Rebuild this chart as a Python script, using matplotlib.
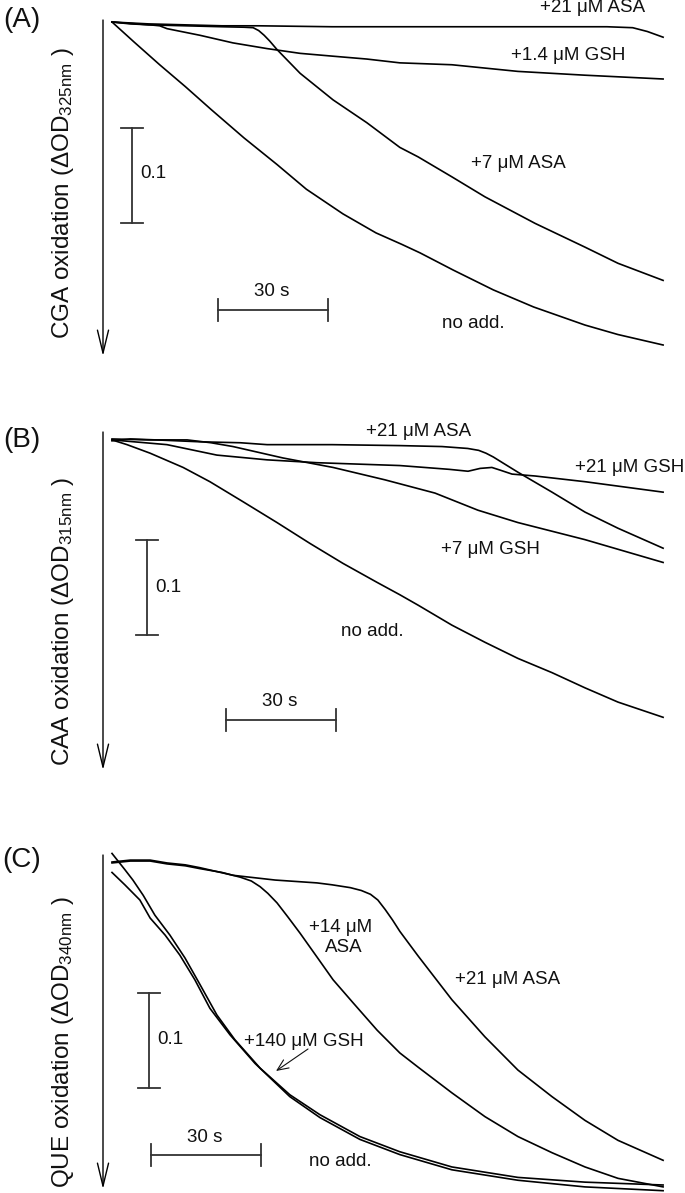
import matplotlib
matplotlib.use("Agg")
import matplotlib.pyplot as plt
from matplotlib.patches import FancyArrowPatch

plt.rcParams["font.family"] = ["Liberation Sans", "DejaVu Sans"]
plt.rcParams["mathtext.fontset"] = "custom"
plt.rcParams["mathtext.rm"] = "Liberation Sans"
plt.rcParams["mathtext.it"] = "Liberation Sans:italic"

W, H = 685, 1193
SX = 110 / 30.0   # px per second
SY = 950.0        # px per OD unit

# =========================
# Data: time (s) vs. oxidation (ΔOD, drawn downward)
# =========================
# (A) CGA, 325 nm
a_noadd_t = [0, 6, 13, 20, 27, 36, 45, 53, 63, 72, 79, 84, 93, 104, 115, 129, 138, 150.3]
a_noadd_od = [0, 0.021, 0.045, 0.068, 0.092, 0.122, 0.150, 0.176, 0.202, 0.222, 0.234,
              0.243, 0.261, 0.282, 0.300, 0.319, 0.329, 0.340]
a_asa7_t = [0, 10, 20, 30, 36, 38.5, 40, 41.5, 43, 45, 51.3, 60.3, 69.5, 78.5, 83.5, 92.7,
            101.7, 115.4, 129, 138, 150.3]
a_asa7_od = [0, 0.003, 0.004, 0.005, 0.0055, 0.006, 0.009, 0.014, 0.020, 0.029, 0.054, 0.082,
             0.106, 0.132, 0.142, 0.163, 0.184, 0.212, 0.237, 0.254, 0.272]
a_asa21_t = [0, 10, 20, 30, 40, 60, 80, 100, 120, 135, 142, 146, 150.3]
a_asa21_od = [0, 0.002, 0.003, 0.004, 0.004, 0.005, 0.005, 0.005, 0.005, 0.005, 0.006, 0.010, 0.016]
a_gsh14_t = [0, 5, 10.4, 13, 15, 24, 33, 42.3, 51.3, 60.3, 69.5, 78.5, 92.7, 110.7, 129, 150.3]
a_gsh14_od = [0, 0.002, 0.003, 0.004, 0.007, 0.014, 0.022, 0.028, 0.033, 0.036, 0.039, 0.043,
              0.045, 0.052, 0.056, 0.060]

# (B) CAA, 315 nm
b_noadd_t = [0, 4.1, 10.4, 19.4, 26.7, 35.7, 45, 54, 63, 72.3, 78.5, 83.5, 92.7, 101.7, 110.7,
             120, 129, 138, 150.3]
b_noadd_od = [0.002, 0.007, 0.016, 0.031, 0.046, 0.067, 0.089, 0.111, 0.132, 0.152, 0.165,
              0.176, 0.197, 0.215, 0.232, 0.247, 0.263, 0.278, 0.294]
b_asa21_t = [0, 5, 12, 24, 35, 42.3, 60, 78.5, 90, 97, 100, 102, 104, 106.5, 110.7, 120, 129,
             138, 150.3]
b_asa21_od = [0.003, 0.001, 0.002, 0.004, 0.005, 0.007, 0.007, 0.008, 0.009, 0.011, 0.013,
              0.016, 0.020, 0.026, 0.036, 0.057, 0.078, 0.095, 0.116]
b_gsh21_t = [0, 15, 28.6, 42.3, 55.9, 78.5, 92, 97.1, 100.4, 103.6, 106, 109.1, 115.4, 129, 150.3]
b_gsh21_od = [0.002, 0.007, 0.018, 0.023, 0.026, 0.029, 0.033, 0.035, 0.032, 0.031, 0.034,
              0.038, 0.040, 0.046, 0.057]
b_gsh7_t = [0, 10, 20.5, 27, 33, 46.6, 60.3, 74.4, 88.1, 99.8, 110.7, 129, 150.3]
b_gsh7_od = [0.001, 0.002, 0.002, 0.005, 0.009, 0.021, 0.031, 0.044, 0.058, 0.076, 0.089,
             0.107, 0.131]

# (C) QUE, 340 nm
c_asa21_t = [0, 5, 10.4, 15, 20, 24, 33, 44.5, 55.9, 60, 65, 68, 70.5, 72.5, 74.5, 76.5, 78.5,
             83.5, 92.7, 101.7, 110.7, 120, 129, 138, 150.3]
c_asa21_od = [0, -0.002, -0.002, 0.001, 0.003, 0.006, 0.014, 0.019, 0.022, 0.024, 0.027, 0.030,
              0.034, 0.040, 0.050, 0.061, 0.073, 0.099, 0.145, 0.184, 0.219, 0.247, 0.272,
              0.293, 0.314]
c_asa14_t = [0, 5, 10.4, 15, 20, 24, 30, 35, 38, 40.4, 42.5, 45, 48, 51.3, 55.9, 60.3, 65.7,
             72.3, 78.5, 83.5, 92.7, 101.7, 110.7, 120, 129, 138, 150.3]
c_asa14_od = [0.001, -0.001, -0.001, 0.002, 0.004, 0.007, 0.011, 0.016, 0.020, 0.026, 0.033,
              0.043, 0.058, 0.075, 0.100, 0.124, 0.148, 0.177, 0.201, 0.216, 0.243, 0.268,
              0.289, 0.306, 0.321, 0.333, 0.342]
c_noadd_t = [0, 3.5, 5.7, 8.5, 11.7, 15.8, 19.9, 24, 28.6, 33.5, 40.4, 48.5, 56.7, 67.6, 78.5,
             92.7, 110.7, 129, 150.3]
c_noadd_od = [-0.009, 0.008, 0.019, 0.035, 0.056, 0.077, 0.101, 0.129, 0.161, 0.187, 0.217,
              0.245, 0.266, 0.289, 0.305, 0.321, 0.332, 0.337, 0.340]
c_gsh140_t = [0, 3.5, 7.6, 10.4, 14.5, 18.5, 22.6, 26.7, 32.2, 39, 48.5, 56.7, 67.6, 78.5, 92.7,
              110.7, 129, 150.3]
c_gsh140_od = [0.011, 0.024, 0.040, 0.059, 0.077, 0.098, 0.124, 0.154, 0.182, 0.212, 0.247,
               0.269, 0.292, 0.308, 0.324, 0.335, 0.342, 0.346]

LABEL_FS = 13.5
TEXT_COLOR = "#111111"
BAR_COLOR = "#333333"

fig = plt.figure(figsize=(W / 100, H / 100), dpi=100)


def fp(x, y):
    """pixel (from top-left) -> figure fraction"""
    return x / W, 1 - y / H


def make_panel(top, bottom, x0, y0):
    ax = fig.add_axes([0, 1 - bottom / H, 1, (bottom - top) / H])
    ax.set_xlim(-x0 / SX, (W - x0) / SX)
    ax.set_ylim((bottom - y0) / SY, (top - y0) / SY)
    ax.axis("off")
    return ax


def scale_bars(ax, x0, y0, vbar, hbar):
    # vertical 0.1 bar
    vt = (vbar[0] - x0) / SX
    vy = (vbar[1] - y0) / SY
    cap = 11 / SX
    ax.plot([vt, vt], [vy, vy + 0.1], color=BAR_COLOR, lw=1.3)
    for yy in (vy, vy + 0.1):
        ax.plot([vt - cap, vt + cap], [yy, yy], color=BAR_COLOR, lw=1.3)
    # horizontal 30 s bar
    ht = (hbar[0] - x0) / SX
    hy = (hbar[1] - y0) / SY
    tick = 11 / SY
    ax.plot([ht, ht + 30], [hy, hy], color=BAR_COLOR, lw=1.3)
    for tt in (ht, ht + 30):
        ax.plot([tt, tt], [hy - tick, hy + tick], color=BAR_COLOR, lw=1.3)


def axis_arrow(x, top, tip):
    arr = FancyArrowPatch(fp(x, top), fp(x, tip), transform=fig.transFigure,
                          arrowstyle="->,head_length=1.65,head_width=0.4",
                          mutation_scale=10, lw=1.0, color="black",
                          shrinkA=0, shrinkB=0)
    fig.add_artist(arr)


def label(x, y, s, **kw):
    opts = dict(ha="center", va="center", fontsize=LABEL_FS, color=TEXT_COLOR)
    opts.update(kw)
    fig.text(*fp(x, y), s, **opts)


def ylabel(x, y, name, nm):
    fig.text(*fp(x, y), name + " oxidation (ΔOD$_{\\mathrm{" + nm + "nm}}$ )",
             rotation=90, ha="center", va="center", fontsize=17.5, color=TEXT_COLOR)


LW = 1.2

# ---------- (A) ----------
axA = make_panel(0, 400, 112, 22)
for t, od in [(a_noadd_t, a_noadd_od), (a_asa7_t, a_asa7_od),
              (a_asa21_t, a_asa21_od), (a_gsh14_t, a_gsh14_od)]:
    axA.plot(t, od, color="black", lw=LW)
scale_bars(axA, 112, 22, vbar=(132, 128), hbar=(218, 310))
axis_arrow(103, 20, 356)
label(22, 20, "(A)", fontsize=20)
ylabel(63, 193, "CGA", "325")
label(593, 8, "+21 μM ASA")
label(568, 55, "+1.4 μM GSH")
label(518, 163, "+7 μM ASA")
label(473, 323, "no add.")
label(140, 173, "0.1", ha="left")
label(272, 292, "30 s")

# ---------- (B) ----------
axB = make_panel(400, 820, 112, 438)
for t, od in [(b_noadd_t, b_noadd_od), (b_asa21_t, b_asa21_od),
              (b_gsh21_t, b_gsh21_od), (b_gsh7_t, b_gsh7_od)]:
    axB.plot(t, od, color="black", lw=LW)
scale_bars(axB, 112, 438, vbar=(147, 540), hbar=(226, 720))
axis_arrow(103, 432, 770)
label(22, 440, "(B)", fontsize=20)
ylabel(63, 621, "CAA", "315")
label(419, 432, "+21 μM ASA")
label(630, 467, "+21 μM GSH")
label(490, 550, "+7 μM GSH")
label(372, 632, "no add.")
label(155, 587, "0.1", ha="left")
label(280, 702, "30 s")

# ---------- (C) ----------
axC = make_panel(820, 1193, 112, 862)
for t, od in [(c_asa21_t, c_asa21_od), (c_asa14_t, c_asa14_od),
              (c_noadd_t, c_noadd_od), (c_gsh140_t, c_gsh140_od)]:
    axC.plot(t, od, color="black", lw=LW)
scale_bars(axC, 112, 862, vbar=(149, 993), hbar=(151, 1155))
axis_arrow(103, 855, 1189)
label(22, 860, "(C)", fontsize=20)
ylabel(63, 1042, "QUE", "340")
label(341, 928, "+14 μM")
label(344, 948, "ASA")
label(508, 980, "+21 μM ASA")
label(304, 1041, "+140 μM GSH")
label(340, 1162, "no add.")
label(157, 1040, "0.1", ha="left")
label(205, 1137, "30 s")
fig.add_artist(FancyArrowPatch(fp(308, 1049), fp(276, 1071), transform=fig.transFigure,
                               arrowstyle="->,head_length=0.8,head_width=0.35",
                               mutation_scale=10, lw=0.8, color=TEXT_COLOR,
                               shrinkA=0, shrinkB=0))

fig.savefig("out.png", dpi=100, facecolor="white")
